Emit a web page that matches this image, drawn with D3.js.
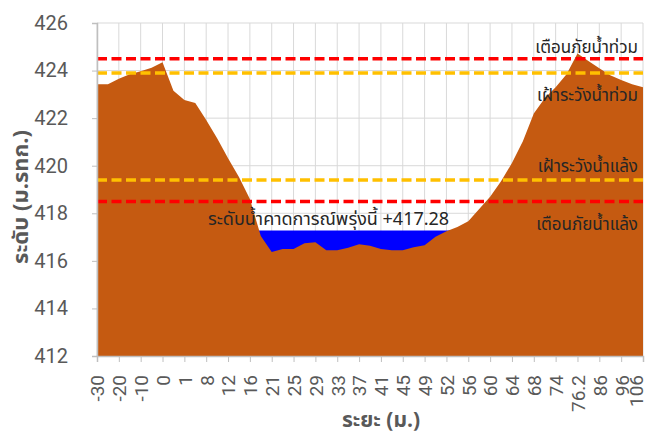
<!DOCTYPE html>
<html>
<head>
<meta charset="utf-8">
<script src="https://cdn.jsdelivr.net/npm/d3@7"></script>
<style>
  html, body { margin: 0; padding: 0; background: #fff; }
  svg { display: block; }
  .thai { font-family: "Leelawadee UI", "Noto Sans Thai", "Noto Sans Thai UI", Tahoma, "Noto Sans", "DejaVu Sans", sans-serif; }
  .num { font-family: "Liberation Sans Narrow", "Roboto", "Liberation Sans", sans-serif; }
</style>
</head>
<body>
<svg id="chart" width="647" height="437"></svg>
<script>
// Distance labels along the cross-section (one label every second survey point)
const distanceLabels = ["-30", "-20", "-10", "0", "1", "8", "12", "16", "21", "25", "29", "33", "37",
  "41", "45", "49", "52", "56", "60", "64", "68", "74", "76.2", "86", "96", "106"];

// Ground elevation (m MSL) at each survey point, left bank to right bank
const groundLevel = [
  423.42, 423.42, 423.66, 423.85, 423.97, 424.12, 424.35, 423.15, 422.76, 422.64,
  421.92, 421.15, 420.31, 419.53, 418.60, 417.04, 416.37, 416.50, 416.50, 416.74,
  416.78, 416.45, 416.45, 416.55, 416.70, 416.63, 416.50, 416.45, 416.45, 416.57,
  416.66, 417.01, 417.25, 417.42, 417.67, 418.18, 418.69, 419.35, 420.11, 421.03,
  422.20, 422.84, 423.30, 423.85, 424.72, 424.40, 424.10, 423.80, 423.60, 423.43,
  423.30
];

// Forecast water level for tomorrow
const forecastLevel = 417.28;

// Threshold levels
const thresholdNames  = ["เตือนภัยน้ำท่วม", "เฝ้าระวังน้ำท่วม", "เฝ้าระวังน้ำแล้ง", "เตือนภัยน้ำแล้ง"];
const thresholdValues = [424.5, 423.9, 419.4, 418.5];
const thresholdColors = ["#FF0000", "#FFC000", "#FFC000", "#FF0000"];

// Y axis ticks
const yTicks = [412, 414, 416, 418, 420, 422, 424, 426];

const svg = d3.select("#chart");
const margin = { left: 97, right: 4, top: 23, bottom: 81 };
const W = 647, H = 437;

const x = d3.scaleLinear().domain([0, groundLevel.length - 1]).range([margin.left, W - margin.right]);
const y = d3.scaleLinear().domain([412, 426]).range([H - margin.bottom, margin.top]);
const tickIdx = d3.range(0, groundLevel.length, 2);
const lastIdx = groundLevel.length - 1;

// Gridlines
svg.append("g")
  .selectAll("line.h").data(yTicks).join("line")
  .attr("x1", x(0)).attr("x2", x(lastIdx))
  .attr("y1", d => y(d)).attr("y2", d => y(d))
  .attr("stroke", "#d9d9d9").attr("stroke-width", 1);
svg.append("g")
  .selectAll("line.v").data(tickIdx).join("line")
  .attr("x1", d => x(d)).attr("x2", d => x(d))
  .attr("y1", y(412)).attr("y2", y(426))
  .attr("stroke", "#d9d9d9").attr("stroke-width", 1);

// Water surface (sits beneath the ground so only the channel shows)
svg.append("path")
  .datum(groundLevel)
  .attr("fill", "#0000FF")
  .attr("d", d3.area()
    .x((d, i) => x(i))
    .y0(y(412))
    .y1(() => y(forecastLevel)));

// Ground profile
svg.append("path")
  .datum(groundLevel)
  .attr("fill", "#C55A11")
  .attr("d", d3.area()
    .x((d, i) => x(i))
    .y0(y(412))
    .y1(d => y(d)));

// Threshold lines
svg.append("g")
  .selectAll("line").data(thresholdValues).join("line")
  .attr("x1", x(0)).attr("x2", x(lastIdx))
  .attr("y1", d => y(d)).attr("y2", d => y(d))
  .attr("stroke", (d, i) => thresholdColors[i])
  .attr("stroke-width", 3.5)
  .attr("stroke-dasharray", "10,4.5");

// Axes
const yAxis = svg.append("g")
  .attr("transform", `translate(${margin.left},0)`)
  .call(d3.axisLeft(y).tickValues(yTicks).tickSize(5).tickPadding(24).tickFormat(d3.format("d")));
yAxis.select(".domain").attr("stroke", "#bfbfbf").attr("stroke-width", 1.5);
yAxis.selectAll(".tick line").attr("stroke", "#bfbfbf");
yAxis.selectAll(".tick text")
  .attr("class", "num")
  .attr("fill", "#595959")
  .attr("font-size", 20);

const xAxis = svg.append("g")
  .attr("transform", `translate(0,${H - margin.bottom})`)
  .call(d3.axisBottom(x).tickValues(tickIdx).tickSize(6).tickFormat(i => distanceLabels[i / 2]));
xAxis.select(".domain").attr("stroke", "#bfbfbf").attr("stroke-width", 1.5);
xAxis.selectAll(".tick line").attr("stroke", "#bfbfbf");
xAxis.selectAll(".tick text")
  .attr("class", "num")
  .attr("fill", "#595959")
  .attr("font-size", 19)
  .attr("text-anchor", "end")
  .attr("transform", "rotate(-90)")
  .attr("x", -19)
  .attr("y", 0)
  // keep the rightmost label inside the frame
  .attr("dy", d => d === lastIdx ? "-0.04em" : "0.36em");

// Threshold labels
const labelBaselines = [53, 101, 172, 230];
svg.append("g")
  .selectAll("text").data(thresholdNames).join("text")
  .attr("class", "thai")
  .attr("x", 638)
  .attr("y", (d, i) => labelBaselines[i])
  .attr("text-anchor", "end")
  .attr("font-size", 17)
  .attr("fill", "#262626")
  .text(d => d);

// Forecast label
svg.append("text")
  .attr("class", "thai")
  .attr("x", 208).attr("y", 225)
  .attr("font-size", 18)
  .attr("fill", "#262626")
  .text("ระดับน้ำคาดการณ์พรุ่งนี้ +" + forecastLevel.toFixed(2));

// Axis titles
svg.append("text")
  .attr("class", "thai")
  .attr("x", 381).attr("y", 427)
  .attr("text-anchor", "middle")
  .attr("font-size", 21).attr("font-weight", "bold")
  .attr("fill", "#595959")
  .text("ระยะ (ม.)");

svg.append("text")
  .attr("class", "thai")
  .attr("transform", "translate(28,197) rotate(-90)")
  .attr("text-anchor", "middle")
  .attr("font-size", 22).attr("font-weight", "bold")
  .attr("fill", "#595959")
  .text("ระดับ (ม.รทก.)");
</script>
</body>
</html>
